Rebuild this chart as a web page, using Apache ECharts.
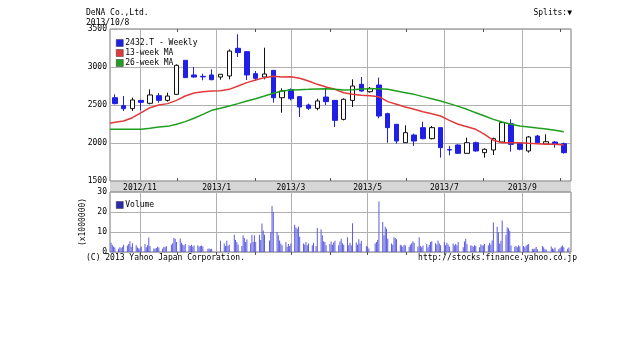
<!DOCTYPE html>
<html><head><meta charset="utf-8">
<style>html,body{margin:0;padding:0;background:#fff}#c{width:640px;height:360px}</style>
<script src="https://cdn.jsdelivr.net/npm/echarts@6/dist/echarts.min.js"></script>
</head><body><div id="c"></div>
<script>
// ---- data ----
const companyName = 'DeNA Co.,Ltd.';
const asOfDate = '2013/10/8';
const seriesName = '2432.T - Weekly';
// weekly candles (one per week, first week ends Fri 2012-10-12)
const opens  = [2596,2491,2452,2561,2522,2623,2561,2640,3088,2895,2877,2895,2868,2882,3246,3202,2912,2868,2956,2596,2702,2610,2500,2456,2605,2561,
                2311,2561,2772,2675,2763,2386,2246,2004,2105,2202,2057,2202,1913,1974,1864,2004,1873,1908,2013,2254,1996,1895,2092,1987,2013,1991];
const closes = [2518,2452,2566,2535,2632,2561,2618,3022,2860,2868,2870,2833,2904,3210,3189,2895,2851,2908,2596,2684,2583,2474,2456,2553,2544,2298,
                2575,2750,2684,2719,2355,2202,2026,2136,2026,2057,2202,1939,1908,1864,2004,1895,1917,2057,2268,1982,1917,2079,2004,2017,1982,1873];
const lows   = [2509,2421,2421,2430,2509,2531,2544,2640,2860,2860,2825,2825,2833,2838,3132,2829,2816,2838,2531,2399,2561,2342,2434,2430,2500,2210,
                2298,2474,2675,2662,2325,2004,1991,2004,1961,2048,2048,1807,1838,1860,1860,1886,1807,1842,2004,1886,1904,1873,1996,1987,1939,1860];
const highs  = [2640,2618,2597,2566,2706,2658,2662,3035,3088,3000,2912,2969,2904,3232,3430,3210,2947,3254,2956,2719,2719,2618,2518,2583,2728,2561,
                2588,2838,2868,2737,2860,2399,2246,2232,2123,2281,2224,2202,1961,1982,2070,2017,1930,2070,2281,2312,2004,2092,2105,2114,2026,2004];
// moving averages: first value sits at the left edge of the plot, then one per week
const ma13 = [2259,2272,2289,2333,2399,2465,2500,2518,2561,2618,2658,2675,2684,2689,2706,2750,2794,2829,2860,2877,2868,2873,2851,2816,2772,2737,2706,
              2662,2640,2627,2623,2610,2544,2509,2474,2443,2412,2386,2355,2298,2246,2215,2180,2114,2035,2004,2004,2004,1996,1991,1982,1982,1974];
const ma26 = [2180,2180,2180,2180,2180,2193,2211,2219,2246,2281,2325,2377,2430,2456,2487,2518,2553,2583,2618,2654,2684,2697,2702,2706,2711,2715,2706,
              2697,2702,2711,2715,2715,2706,2684,2662,2640,2610,2583,2553,2518,2482,2443,2399,2355,2311,2276,2246,2224,2211,2197,2184,2167,2149];
const priceTicks = [1500,2000,2500,3000,3500];
const volumeTicks = [0,10,20,30];
const monthLabels = ['2012/11','2013/1','2013/3','2013/5','2013/7','2013/9'];
// daily volume (x1,000,000), per month of trading days
const volOct12 = [4.6,3.6,2.8,2.2,1.6,2.4,2.0,2.6,3.6,3.2,4.0,5.4,2.6,4.4,3.4,2.2,1.8];
const volNov12 = [1.8,2.8,4.0,2.4,3.4,7.2,3.0,1.8,1.6,2.0,2.6,2.2,1.8,2.6,2.4,3.0,3.6,4.4,7.0,6.6,5.0];
const volDec12 = [6.8,4.6,3.8,3.2,4.0,3.4,3.0,3.6,2.8,3.2,3.4,2.6,3.0,3.2,2.8,1.6,1.8,1.4,1.6];
const volJan13 = [5.6,4.2,3.0,5.6,3.2,3.6,8.6,6.0,5.0,3.8,3.0,8.4,7.0,5.0,6.2,4.4,8.6,5.0,8.4];
const volFeb13 = [5.0,8.6,6.0,14.2,10.8,8.6,5.8,10.0,23.0,20.0,10.0,8.4,5.8,4.2,3.4,5.0,2.6,4.0,3.0];
const volMar13 = [4.2,13.6,12.2,11.6,12.8,7.6,4.2,3.8,5.0,3.4,4.2,3.4,4.6,3.0,12.0,11.4,8.4,5.4,5.0,3.4];
const volApr13 = [4.0,5.2,3.6,4.8,5.6,3.4,5.2,6.6,4.4,3.6,7.4,3.4,4.6,3.4,14.4,4.8,3.6,6.4,4.2,5.6,3.0];
const volMay13 = [2.6,1.8,4.2,5.0,6.0,25.2,15.0,8.4,12.6,11.6,6.6,4.2,3.6,7.4,7.0,6.4,3.6,3.2,2.6,3.6,3.2];
const volJun13 = [2.6,3.6,4.4,5.4,4.6,2.8,7.4,3.0,2.4,3.2,4.0,2.4,3.6,5.0,5.4,4.4,3.8,5.8,4.2,3.4];
const volJul13 = [5.0,3.4,4.6,3.8,2.8,4.2,3.2,4.0,3.4,5.0,2.4,5.2,6.6,4.0,3.4,3.0,2.6,3.4,3.0,2.4,3.8,3.2];
const volAug13 = [3.4,4.0,3.4,4.6,3.8,5.8,14.8,12.6,9.8,4.2,5.6,15.8,8.6,12.4,11.8,10.6,3.2,2.6,3.0,2.4,3.4,2.8];
const volSep13 = [3.0,2.4,3.2,3.6,4.0,1.6,1.4,1.8,2.6,1.4,3.0,2.4,1.4,1.2,2.8,1.8,1.4,2.2,1.4];
const volOct13 = [2.0,2.8,3.2,2.4,1.6,2.2];
const holidays = ['2012-11-23','2012-12-24','2012-12-31','2013-01-01','2013-01-02','2013-01-03','2013-01-14','2013-02-11',
                  '2013-03-20','2013-04-29','2013-05-03','2013-05-06','2013-07-15','2013-09-16','2013-09-23'];

// ---- build ----
const pad = n => (n < 10 ? '0' : '') + n;
const key = d => d.getFullYear() + '-' + pad(d.getMonth() + 1);
const iso = d => key(d) + '-' + pad(d.getDate());
const weekDates = opens.map((_, i) => new Date(2012, 9, 12 + 7 * i).getTime());
const axisMin = new Date(2012, 9, 8, 4).getTime();
const axisMax = new Date(2013, 9, 9, 17).getTime();
const candleData = weekDates.map((t, i) => [t, opens[i], closes[i], lows[i], highs[i]]);
const maDates = [axisMin].concat(weekDates);
const ma13Data = ma13.map((v, i) => [maDates[i], v]);
const ma26Data = ma26.map((v, i) => [maDates[i], v]);

const monthVols = {'2012-10':volOct12,'2012-11':volNov12,'2012-12':volDec12,'2013-01':volJan13,'2013-02':volFeb13,'2013-03':volMar13,
  '2013-04':volApr13,'2013-05':volMay13,'2013-06':volJun13,'2013-07':volJul13,'2013-08':volAug13,'2013-09':volSep13,'2013-10':volOct13};
const counters = {};
const volData = [];
for (let d = new Date(2012, 9, 9); d <= new Date(2013, 9, 8); d = new Date(d.getFullYear(), d.getMonth(), d.getDate() + 1)) {
  const wd = d.getDay();
  if (wd === 0 || wd === 6 || holidays.indexOf(iso(d)) >= 0) continue;
  const k = key(d); counters[k] = (counters[k] || 0);
  const arr = monthVols[k];
  if (arr && counters[k] < arr.length) volData.push([d.getTime(), arr[counters[k]]]);
  counters[k]++;
}
const labelDates = monthLabels.map(s => { const p = s.split('/'); return new Date(+p[0], +p[1] - 1, 1).getTime(); });
const monthStarts = [];
for (let m = 10; m <= 21; m++) monthStarts.push(new Date(2012, m, 1).getTime());

const FONT = 'DejaVu Sans Mono';
const BLUE = '#1f1fe6', RED = '#e23a3a', GREEN = '#1f9e1f', GRIDC = '#b0b0b0';
const vGrid = { silent: true, symbol: ['none','none'], z: 1, label: {show: false}, emphasis: {disabled: true},
  lineStyle: {color: GRIDC, type: 'solid', width: 1}, data: labelDates.map(t => ({xAxis: t})) };
const fmt = v => { const d = new Date(v); return d.getFullYear() + '/' + (d.getMonth() + 1); };
const plain = v => String(v);
const tickCfg = {show: true, inside: true, length: 3, customValues: monthStarts, lineStyle: {color: '#555'}};

const chart = echarts.init(document.getElementById('c'), null, {renderer: 'canvas'});
chart.setOption({
  animation: false,
  backgroundColor: '#fff',
  textStyle: {fontFamily: FONT},
  grid: [
    {left: 110, top: 29, width: 461, height: 152, show: true, borderColor: '#777', borderWidth: 1, backgroundColor: 'transparent'},
    {left: 110, top: 192, width: 461, height: 60, show: true, borderColor: '#777', borderWidth: 1, backgroundColor: 'transparent'}
  ],
  xAxis: [
    {type: 'value', gridIndex: 0, min: axisMin, max: axisMax, scale: true, axisLine: {show: false}, splitLine: {show: false},
     axisTick: tickCfg,
     axisLabel: {customValues: labelDates, formatter: fmt, fontSize: 8, fontFamily: FONT, color: '#000', margin: 3, hideOverlap: false}},
    {type: 'value', gridIndex: 0, position: 'top', min: axisMin, max: axisMax, scale: true, axisLine: {show: false}, splitLine: {show: false},
     axisTick: tickCfg, axisLabel: {show: false}},
    {type: 'value', gridIndex: 1, position: 'top', min: axisMin, max: axisMax, scale: true, axisLine: {show: false}, splitLine: {show: false},
     axisTick: tickCfg, axisLabel: {show: false}}
  ],
  yAxis: [
    {type: 'value', gridIndex: 0, min: priceTicks[0], max: priceTicks[priceTicks.length - 1], interval: 500,
     axisLine: {show: false}, axisTick: {show: false},
     axisLabel: {fontSize: 8, fontFamily: FONT, color: '#000', margin: 3, formatter: plain},
     splitLine: {show: true, lineStyle: {color: GRIDC, width: 1}}},
    {type: 'value', gridIndex: 1, min: volumeTicks[0], max: volumeTicks[volumeTicks.length - 1], interval: 10,
     axisLine: {show: false}, axisTick: {show: false},
     axisLabel: {fontSize: 8, fontFamily: FONT, color: '#000', margin: 3, formatter: plain},
     name: '(x1000000)', nameLocation: 'middle', nameRotate: 90, nameGap: 17,
     nameTextStyle: {fontSize: 8, fontFamily: FONT, color: '#000'},
     splitLine: {show: true, lineStyle: {color: GRIDC, width: 1}}}
  ],
  legend: [
    {left: 111, top: 34, orient: 'vertical', icon: 'rect', itemWidth: 7, itemHeight: 7, itemGap: 2, selectedMode: false,
     textStyle: {fontSize: 8, fontFamily: FONT, color: '#000', padding: [0, 0, 0, -3]},
     itemStyle: {borderColor: '#333', borderWidth: 0.5},
     data: [{name: seriesName, itemStyle: {color: BLUE}}, {name: '13-week MA', itemStyle: {color: RED}}, {name: '26-week MA', itemStyle: {color: GREEN}}]},
    {left: 111, top: 196, orient: 'vertical', icon: 'rect', itemWidth: 7, itemHeight: 7, selectedMode: false,
     textStyle: {fontSize: 8, fontFamily: FONT, color: '#000', padding: [0, 0, 0, -3]},
     itemStyle: {borderColor: '#333', borderWidth: 0.5},
     data: [{name: 'Volume', itemStyle: {color: '#2a2ab0'}}]}
  ],
  graphic: [
    {type: 'rect', z: -1, shape: {x: 110, y: 181, width: 461, height: 11}, style: {fill: '#d6d6d6'}},
    {type: 'text', left: 86, top: 9, style: {text: companyName, font: '8px ' + FONT, fill: '#000'}},
    {type: 'text', left: 86, top: 19, style: {text: asOfDate, font: '8px ' + FONT, fill: '#000'}},
    {type: 'text', right: 68, top: 9, style: {text: 'Splits:▼', font: '8px ' + FONT, fill: '#000'}},
    {type: 'text', left: 86, top: 254, style: {text: '(C) 2013 Yahoo Japan Corporation.', font: '8px ' + FONT, fill: '#000'}},
    {type: 'text', right: 63, top: 254, style: {text: 'http://stocks.finance.yahoo.co.jp', font: '8px ' + FONT, fill: '#000'}}
  ],
  series: [
    {name: seriesName, type: 'candlestick', xAxisIndex: 0, yAxisIndex: 0, barWidth: 5, data: candleData,
     itemStyle: {color: '#fff', color0: BLUE, borderColor: '#111', borderColor0: BLUE, borderWidth: 1},
     markLine: vGrid},
    {name: '13-week MA', type: 'line', xAxisIndex: 0, yAxisIndex: 0, data: ma13Data, showSymbol: false, symbol: 'none',
     lineStyle: {color: RED, width: 1.5}, itemStyle: {color: RED}, z: 3},
    {name: '26-week MA', type: 'line', xAxisIndex: 0, yAxisIndex: 0, data: ma26Data, showSymbol: false, symbol: 'none',
     lineStyle: {color: GREEN, width: 1.5}, itemStyle: {color: GREEN}, z: 3},
    {name: 'Volume', type: 'bar', xAxisIndex: 2, yAxisIndex: 1, barWidth: 1, data: volData,
     itemStyle: {color: '#5c5ce0'}, markLine: vGrid}
  ]
});
</script>
</body></html>
